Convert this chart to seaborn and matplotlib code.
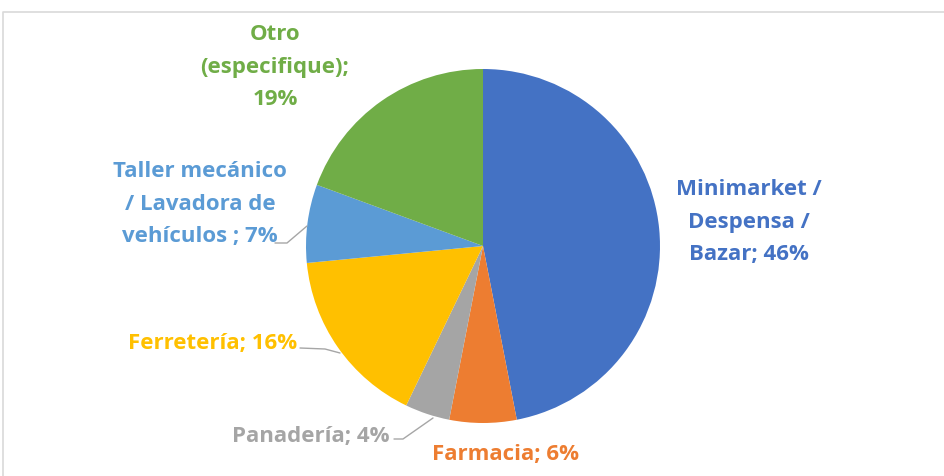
import matplotlib
matplotlib.use("Agg")
import matplotlib.pyplot as plt
import seaborn as sns

# data
categories = ["Minimarket /\nDespensa /\nBazar", "Farmacia", "Panadería",
              "Ferretería", "Taller mecánico\n/ Lavadora de\nvehículos ", "Otro\n(especifique)"]
shares = [46, 6, 4, 16, 7, 19]
colors = ["#4472C4", "#ED7D31", "#A5A5A5", "#FFC000", "#5B9BD5", "#70AD47"]
separators = ["; ", "; ", "; ", "; ", "; ", ";\n"]

sns.set_theme(style="white")
plt.rcParams["font.family"] = ["Open Sans", "DejaVu Sans"]

W, H = 945, 476
fig = plt.figure(figsize=(W / 100, H / 100), dpi=100)
ax = fig.add_axes([0, 0, 1, 1])

# pie in pixel coordinates (y up)
cx, cy, r = 483, H - 246, 177
ax.pie(shares, colors=colors, startangle=90, counterclock=False,
       center=(cx, cy), radius=r, wedgeprops=dict(linewidth=0))
ax.set_xlim(0, W)
ax.set_ylim(0, H)
ax.set_aspect("equal")
ax.axis("off")

# chart frame
ax.plot([3, 3, W + 5], [-5, H - 12, H - 12], color="#D9D9D9", lw=1.2, clip_on=False)

# label layout: (x, y from top, ha)
layout = [(749, 222, "center"), (505, 455, "center"), (390, 437, "right"),
          (297, 343, "right"), (200, 204, "center"), (275, 67, "center")]
for cat, sep, val, col, (x, y, ha) in zip(categories, separators, shares, colors, layout):
    ax.text(x, H - y, f"{cat}{sep}{val}%", color=col, fontsize=16, fontweight="bold",
            ha=ha, va="center", multialignment="center", linespacing=1.7)

# leader lines
leaders = [
    [(275, 243), (287, 243), (307, 226)],
    [(300, 348), (325, 349), (340, 353)],
    [(394, 439), (403, 439), (433, 418)],
]
for pts in leaders:
    xs = [p[0] for p in pts]
    ys = [H - p[1] for p in pts]
    ax.plot(xs, ys, color="#A6A6A6", lw=1)

fig.savefig("out.png", dpi=100)
